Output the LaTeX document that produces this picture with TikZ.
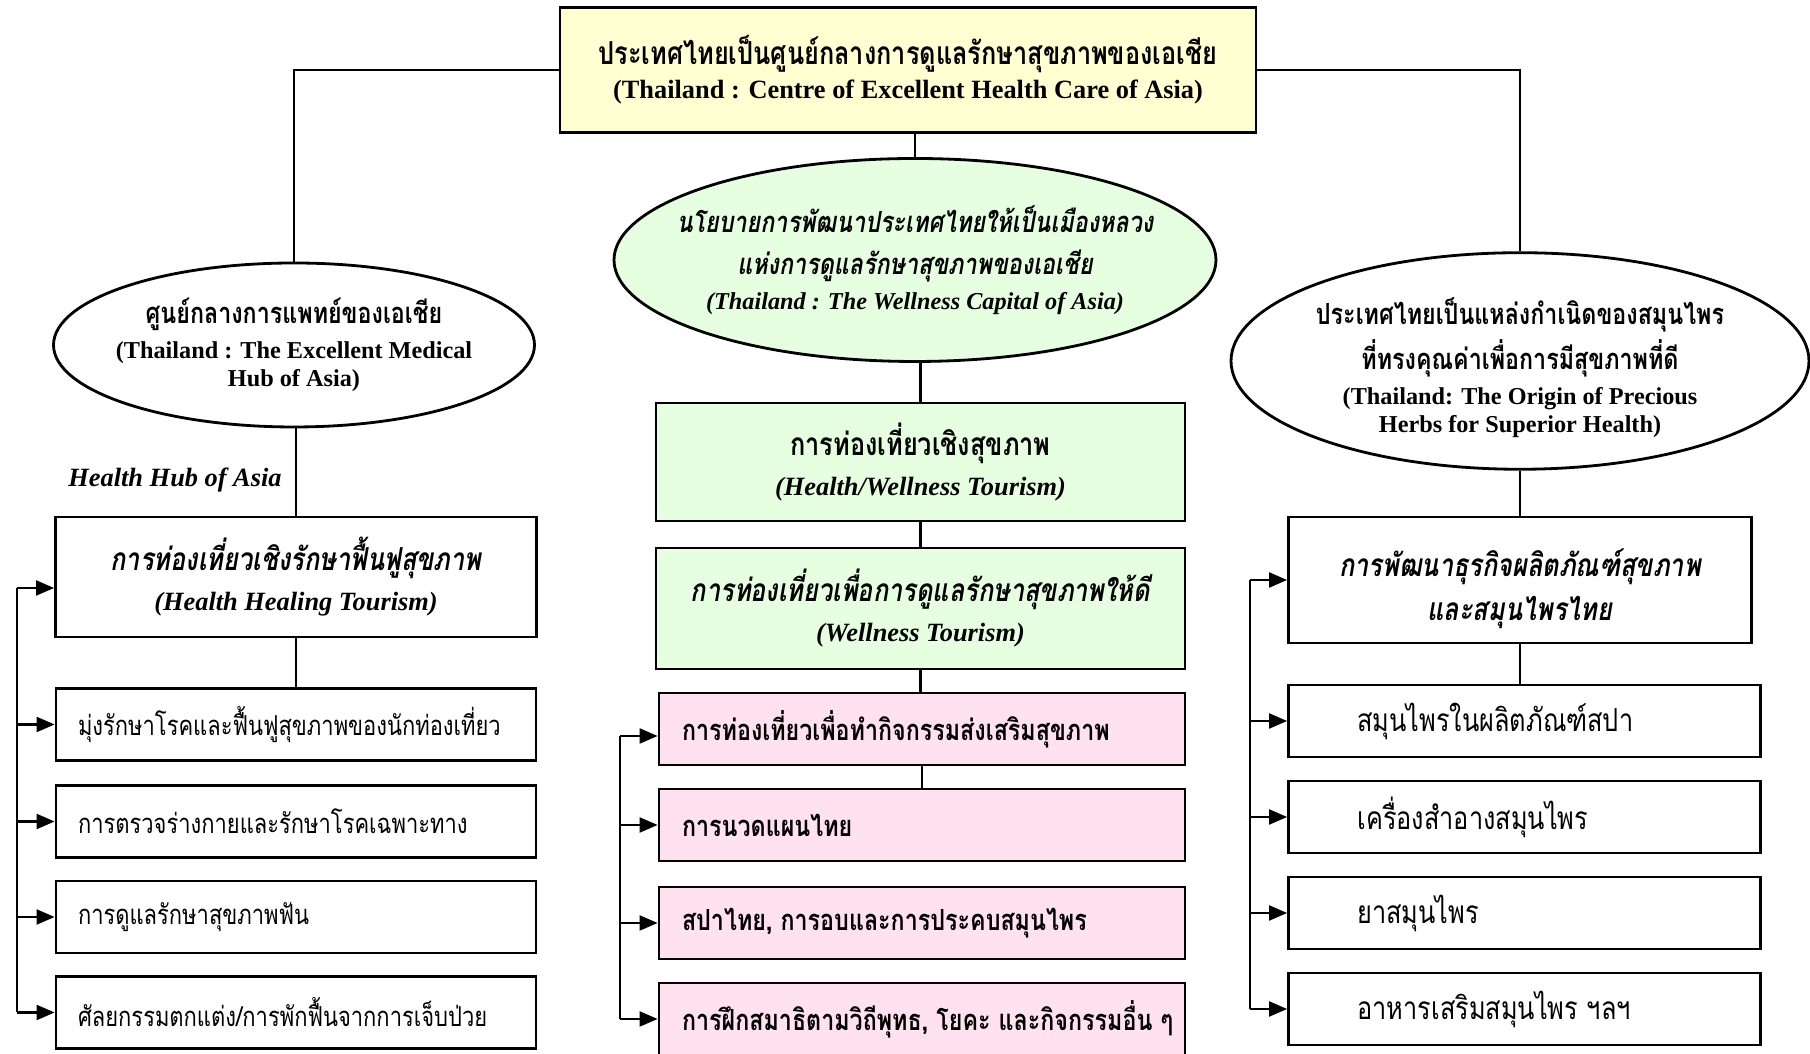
\documentclass[tikz,border=0pt]{standalone}
\usepackage{fontspec}
\setmainfont{Liberation Serif}
\newfontfamily\thai[Script=Thai,Scale=1.2,FakeStretch=0.8]{Loma}
\usetikzlibrary{shapes.geometric,arrows.meta}
\definecolor{paleyellow}{HTML}{FFFFD1}
\definecolor{palegreen}{HTML}{E6FFE0}
\definecolor{palepink}{HTML}{FFE1F0}
\lineskiplimit=-\maxdimen

\begin{document}
\begin{tikzpicture}[x=0.1mm, y=-0.1mm, line width=0.6pt,
	headbox/.style={draw, line width=0.8pt, fill=paleyellow, align=center, inner sep=0pt,
		font=\fontsize{7.5}{9.7}\selectfont\bfseries},
	oval/.style={ellipse, draw, line width=0.8pt, align=center, inner xsep=-10mm, inner ysep=0pt,
		font=\fontsize{6.9}{10}\selectfont\bfseries},
	mainbox/.style={draw, line width=0.8pt, align=center, inner sep=0pt,
		font=\fontsize{7.5}{11.4}\selectfont\bfseries\itshape},
	itembox/.style={draw, line width=0.8pt, minimum height=7.2mm, align=left},
	lbox/.style={itembox, text width=43.6mm, inner xsep=2.2mm, font=\fontsize{6.5}{9}\selectfont},
	pinkbox/.style={itembox, fill=palepink, text width=48mm, inner xsep=2.3mm, font=\fontsize{6.9}{9}\selectfont\bfseries},
	rbox/.style={itembox, text width=33.4mm, inner xsep=6.9mm, font=\fontsize{7.5}{9}\selectfont},
	arr/.style={-{Triangle[length=1.8mm,width=1.5mm]}}]
		\useasboundingbox (0,0) rectangle (1810,1054);
		
		% top
		\node[headbox, minimum width=69.6mm, minimum height=12.5mm] (top) at (908,70)
			{{\thai ประเทศไทยเป็นศูนย์กลางการดูแลรักษาสุขภาพของเอเชีย}\\(Thailand : Centre of Excellent Health Care of Asia)};
		
		% three ovals
		\node[oval, fill=palegreen, font=\fontsize{6.9}{10}\selectfont\bfseries\itshape, minimum width=60.2mm, minimum height=20.3mm] (cel) at (915,260)
			{{\thai นโยบายการพัฒนาประเทศไทยให้เป็นเมืองหลวง}\\[2pt]{\thai แห่งการดูแลรักษาสุขภาพของเอเชีย}\\(Thailand : The Wellness Capital of Asia)};
		\node[oval, minimum width=48.1mm, minimum height=16.4mm] (lel) at (294,345)
			{{\thai ศูนย์กลางการแพทย์ของเอเชีย}\\(Thailand : The Excellent Medical\\[-2pt]Hub of Asia)};
		\node[oval, minimum width=57.8mm, minimum height=19.2mm] (rel) at (1520,361)
			{{\thai\rule{0pt}{11.5pt}ประเทศไทยเป็นแหล่งกำเนิดของสมุนไพร}\\[2.6pt]{\thai ที่ทรงคุณค่าเพื่อการมีสุขภาพที่ดี}\\(Thailand: The Origin of Precious\\[-2pt]Herbs for Superior Health)};
		
		\draw (top.west) -| (lel.north);
		\draw (top.east) -| (rel.north);
		\draw (cel.north) -- (cel.north |- top.south);
		
		% left column
		\node[font=\fontsize{7.5}{9}\selectfont\bfseries\itshape] (hub) at (175,480) {Health Hub of Asia};
		\node[mainbox, minimum width=48.1mm, minimum height=12mm] (lmain) at (296,577)
			{{\thai การท่องเที่ยวเชิงรักษาฟื้นฟูสุขภาพ}\\(Health Healing Tourism)};
		\node[lbox] (lsub1) at (296,724.5) {\thai มุ่งรักษาโรคและฟื้นฟูสุขภาพของนักท่องเที่ยว};
		\node[lbox] (lsub2) at (296,821.5) {\thai การตรวจร่างกายและรักษาโรคเฉพาะทาง};
		\node[lbox] (lsub3) at (296,917) {\thai การดูแลรักษาสุขภาพฟัน};
		\node[lbox] (lsub4) at (296,1012.5) {\thai ศัลยกรรมตกแต่ง/การพักฟื้นจากการเจ็บป่วย};
		\coordinate (lbar) at (17,0);
		
		\draw (lmain.north) -- (lmain.north |- lel.south);
		\draw (lmain.south) -- (lsub1.north);
		\draw (lbar |- lsub4.west) -- ([yshift=-1.1mm]lbar |- lmain.west);
		\draw[arr] ([yshift=-1.1mm]lbar |- lmain.west) -- ([yshift=-1.1mm]lmain.west);
		\draw[arr] (lbar |- lsub1.west) -- (lsub1.west);
		\draw[arr] (lbar |- lsub2.west) -- (lsub2.west);
		\draw[arr] (lbar |- lsub3.west) -- (lsub3.west);
		\draw[arr] (lbar |- lsub4.west) -- (lsub4.west);
		
		% middle column
		\node[mainbox, fill=palegreen, minimum width=52.9mm, minimum height=11.8mm] (gbox1) at (920.5,462)
			{{\thai\upshape การท่องเที่ยวเชิงสุขภาพ}\\(Health/Wellness Tourism)};
		\node[mainbox, fill=palegreen, minimum width=52.9mm, minimum height=12.1mm] (gbox2) at (920.5,608.5)
			{{\thai การท่องเที่ยวเพื่อการดูแลรักษาสุขภาพให้ดี}\\(Wellness Tourism)};
		\node[pinkbox] (pink1) at (922,729) {\thai การท่องเที่ยวเพื่อทำกิจกรรมส่งเสริมสุขภาพ};
		\node[pinkbox] (pink2) at (922,825) {\thai การนวดแผนไทย};
		\node[pinkbox] (pink3) at (922,923) {\thai สปาไทย, การอบและการประคบสมุนไพร};
		\node[pinkbox] (pink4) at (922,1019) {\thai\mbox{การฝึกสมาธิตามวิถีพุทธ, โยคะ และกิจกรรมอื่น ๆ}};
		\coordinate (pbar) at (620,0);
		
		\draw (gbox1.north) -- (gbox1.north |- cel.south);
		\draw (gbox1.south) -- (gbox2.north);
		\draw (gbox2.south) -- (gbox2.south |- pink1.north);
		\draw (pink1.south) -- (pink1.south |- pink2.north);
		\draw (pbar |- pink4.west) -- ([yshift=-0.7mm]pbar |- pink1.west);
		\draw[arr] ([yshift=-0.7mm]pbar |- pink1.west) -- ([yshift=-0.7mm]pink1.west);
		\draw[arr] (pbar |- pink2.west) -- (pink2.west);
		\draw[arr] (pbar |- pink3.west) -- (pink3.west);
		\draw[arr] (pbar |- pink4.west) -- (pink4.west);
		
		% right column
		\node[mainbox, minimum width=46.3mm, minimum height=12.6mm] (rmain) at (1520,580)
			{{\thai\rule{0pt}{13pt}การพัฒนาธุรกิจผลิตภัณฑ์สุขภาพ}\\[1.1pt]{\thai และสมุนไพรไทย}};
		\node[rbox] (rsub1) at (1524.5,721) {\thai สมุนไพรในผลิตภัณฑ์สปา};
		\node[rbox] (rsub2) at (1524.5,817) {\thai เครื่องสำอางสมุนไพร};
		\node[rbox] (rsub3) at (1524.5,913) {\thai ยาสมุนไพร};
		\node[rbox] (rsub4) at (1524.5,1009) {\thai อาหารเสริมสมุนไพร ฯลฯ};
		\coordinate (rbar) at (1250,0);
		
		\draw (rmain.north) -- (rel.south);
		\draw (rmain.south) -- (rmain.south |- rsub1.north);
		\draw (rbar |- rsub4.west) -- (rbar |- rmain.west);
		\draw[arr] (rbar |- rmain.west) -- (rmain.west);
		\draw[arr] (rbar |- rsub1.west) -- (rsub1.west);
		\draw[arr] (rbar |- rsub2.west) -- (rsub2.west);
		\draw[arr] (rbar |- rsub3.west) -- (rsub3.west);
		\draw[arr] (rbar |- rsub4.west) -- (rsub4.west);
	\end{tikzpicture}
\end{document}
